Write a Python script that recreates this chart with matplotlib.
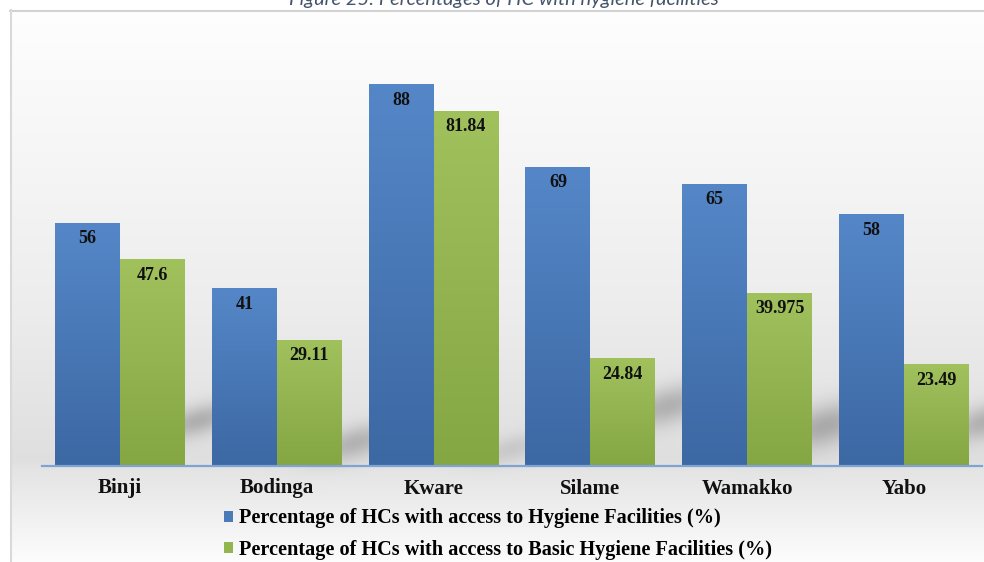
import numpy as np
import matplotlib
matplotlib.use("Agg")
import matplotlib.pyplot as plt
from matplotlib.colors import LinearSegmentedColormap
from matplotlib.patches import Patch
from matplotlib.lines import Line2D

# ---- data -------------------------------------------------------------
lgas = ["Binji", "Bodinga", "Kware", "Silame", "Wamakko", "Yabo"]
hygiene = [56, 41, 88, 69, 65, 58]
basic_hygiene = [47.6, 29.11, 81.84, 24.84, 39.975, 23.49]
hygiene_labels = ["56", "41", "88", "69", "65", "58"]
basic_labels = ["47.6", "29.11", "81.84", "24.84", "39.975", "23.49"]
series_names = [
    "Percentage of HCs with access to Hygiene Facilities (%)",
    "Percentage of HCs with access to Basic Hygiene Facilities (%)",
]
title = "Figure 25: Percentages of HC with hygiene facilities"

W, H = 984, 562
fig = plt.figure(figsize=(W / 100, H / 100), dpi=100)

# ---- background panel: soft grey gradient with bar shadows ------------
bg = fig.add_axes([0, 0, 1, 1], zorder=0)
bg.set_axis_off()
yy, xx = np.mgrid[0:H, 0:W].astype(float)
knots_y = [10, 150, 300, 460, 470, 562]
knots_v = [0.995, 0.965, 0.93, 0.875, 0.895, 0.99]
shade = np.interp(yy, knots_y, knots_v)
shadows = [(198, 420, 40, 15, 0.20), (355, 442, 40, 16, 0.18),
           (512, 448, 34, 13, 0.09), (668, 405, 46, 19, 0.20),
           (825, 425, 46, 21, 0.22), (990, 420, 44, 17, 0.20)]
for cx, cy, sx, sy, a in shadows:
    dx, dy = xx - cx, yy - cy
    ddy = dy + 0.25 * dx  # tilt so the shadow rises to the right
    shade -= a * np.exp(-(dx / sx) ** 2 - (ddy / sy) ** 2)
shade[(yy < 10) | (xx < 10)] = 1.0
bg.imshow(np.dstack([shade] * 3), extent=[0, W, H, 0], aspect="auto",
          interpolation="bilinear")
bg.set_xlim(0, W)
bg.set_ylim(H, 0)
bg.add_line(Line2D([10, W], [10.5, 10.5], color="#d2d2d2", lw=1.5))
bg.add_line(Line2D([10.5, 10.5], [10, H], color="#d9d9d9", lw=1.5))

fig.text(0.512, 1 - 4.5 / H, title, ha="center", va="baseline",
         style="italic", color="#44546a", fontsize=14.5, family="Lato")

# ---- bars -------------------------------------------------------------
ax = fig.add_axes([41.7 / W, 96 / H, 940.5 / W, 434 / H], zorder=1)
ax.patch.set_alpha(0)

x = np.arange(len(lgas))
bw = 0.414
blue = ax.bar(x - bw / 2, hygiene, bw, color="#4a7ab8", zorder=2)
green = ax.bar(x + bw / 2, basic_hygiene, bw, color="#93b550", zorder=2)

blue_cmap = LinearSegmentedColormap.from_list("b", ["#3c68a3", "#5587c8"])
green_cmap = LinearSegmentedColormap.from_list("g", ["#84a643", "#a1c15d"])
grad = np.linspace(1, 0, 256).reshape(-1, 1)
for bars, cmap in ((blue, blue_cmap), (green, green_cmap)):
    for b in bars:
        x0, w, h = b.get_x(), b.get_width(), b.get_height()
        im = ax.imshow(grad, cmap=cmap, extent=[x0, x0 + w, 0, h],
                       aspect="auto", zorder=3, interpolation="bilinear")
        im.set_clip_path(b)

for bars, labels in ((blue, hygiene_labels), (green, basic_labels)):
    for b, lab in zip(bars, labels):
        ax.annotate(lab, (b.get_x() + b.get_width() / 2, b.get_height()),
                    xytext=(0, -11.5), textcoords="offset points",
                    ha="center", va="center", fontsize=13,
                    fontweight="bold", family="Liberation Serif",
                    color="#111111", zorder=4)

ax.set_xlim(-0.5, len(lgas) - 0.5)
ax.set_ylim(0, 100)
ax.set_yticks([])
ax.set_xticks(x)
ax.set_xticklabels(lgas, fontsize=15, fontweight="bold",
                   family="Liberation Serif", color="#111111")
ax.tick_params(axis="x", length=0, pad=9)
for s in ("left", "right", "top"):
    ax.spines[s].set_visible(False)
ax.spines["bottom"].set_color("#7fa3d3")
ax.spines["bottom"].set_linewidth(1.6)
ax.spines["bottom"].set_zorder(5)

handles = [Patch(facecolor="#4a7ab8"), Patch(facecolor="#93b550")]
fig.legend(handles, series_names, loc="upper left",
           bbox_to_anchor=(224 / W, 1 - 508.5 / H), frameon=False,
           prop={"family": "Liberation Serif", "weight": "bold", "size": 14.6},
           handlelength=0.43, handleheight=0.43, handletextpad=0.33,
           labelspacing=0.55, borderpad=0, borderaxespad=0)

fig.savefig("out.png", dpi=100)
